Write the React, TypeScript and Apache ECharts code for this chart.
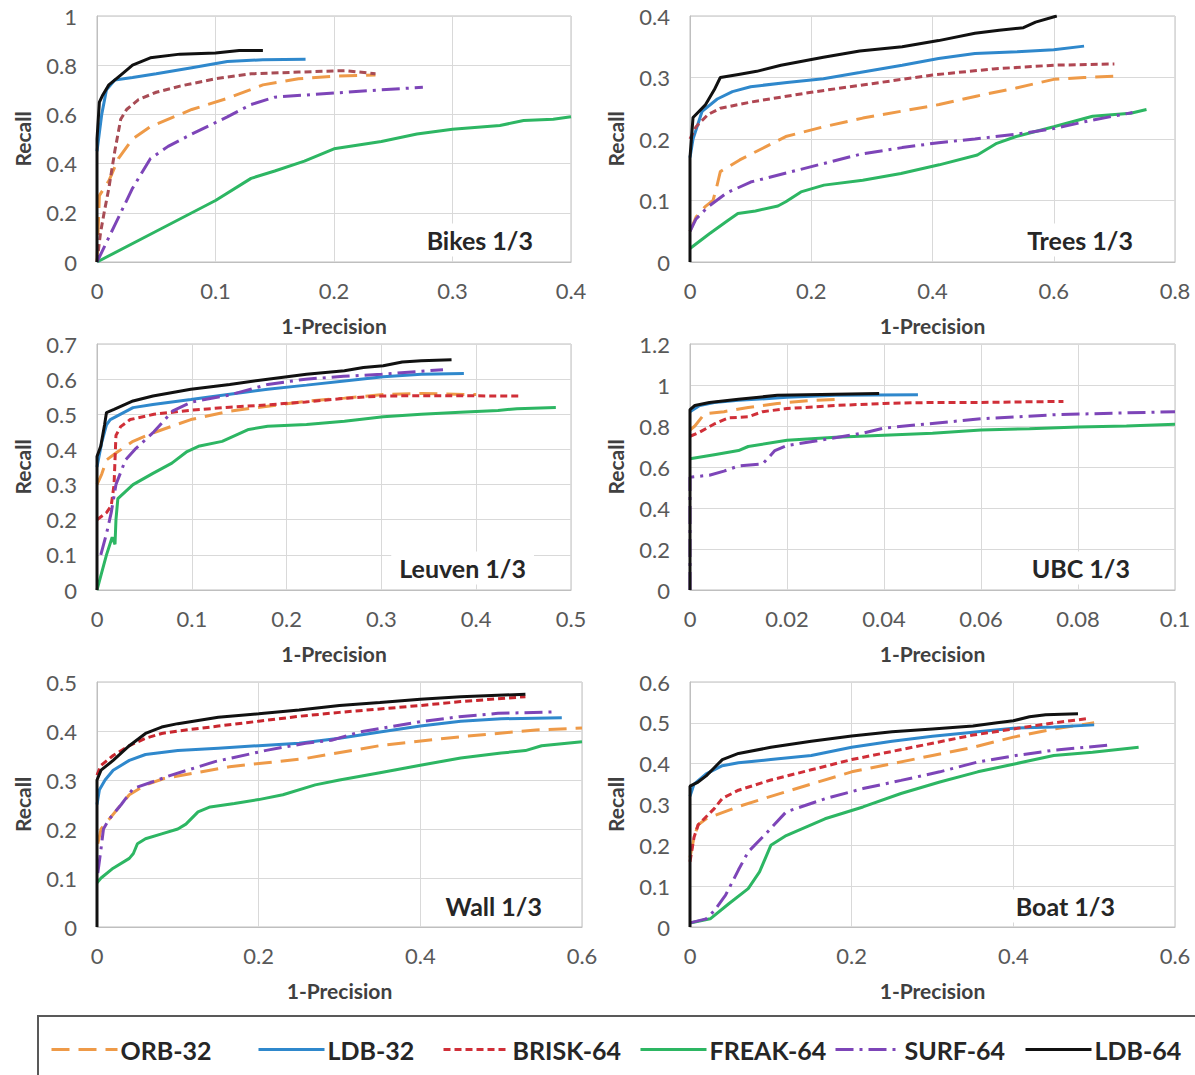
import React, { useEffect, useRef } from "react";
import * as echarts from "echarts";

const seriesNames = ["ORB-32", "LDB-32", "BRISK-64", "FREAK-64", "SURF-64", "LDB-64"];
const seriesColors = ["#EE9A48", "#2F88CC", "#D02F38", "#2DB663", "#7D45B8", "#111111"];
const dashTypes: any[] = [[18, 9], "solid", [7, 4], "solid", [18, 6, 3, 6], "solid"];
const briskPanelColors = ["#A84C55", "#B04652", "#D02F38", "#D02F38", "#C8262E", "#D02F38"];

// ---------- Bikes ----------
const bikesORB = [[0,0],[0.002,0.27],[0.01,0.33],[0.018,0.42],[0.03,0.5],[0.045,0.55],[0.08,0.62],[0.11,0.665],[0.14,0.72],[0.17,0.745],[0.2,0.755],[0.235,0.76]];
const bikesLDB32 = [[0,0.45],[0.004,0.6],[0.008,0.7],[0.015,0.74],[0.03,0.75],[0.05,0.765],[0.08,0.79],[0.11,0.815],[0.14,0.822],[0.176,0.824]];
const bikesBRISK = [[0,0],[0.003,0.12],[0.006,0.2],[0.01,0.3],[0.015,0.45],[0.02,0.58],[0.025,0.62],[0.035,0.66],[0.05,0.69],[0.07,0.715],[0.1,0.745],[0.13,0.765],[0.17,0.772],[0.21,0.778],[0.235,0.765]];
const bikesFREAK = [[0,0],[0.05,0.125],[0.1,0.25],[0.13,0.34],[0.15,0.37],[0.175,0.41],[0.2,0.46],[0.24,0.49],[0.27,0.52],[0.3,0.54],[0.34,0.555],[0.36,0.575],[0.385,0.58],[0.4,0.59]];
const bikesSURF = [[0,0],[0.015,0.15],[0.03,0.3],[0.045,0.42],[0.06,0.47],[0.08,0.52],[0.11,0.59],[0.13,0.64],[0.15,0.67],[0.18,0.68],[0.21,0.69],[0.24,0.7],[0.275,0.71]];
const bikesLDB64 = [[0,0],[0,0.5],[0.002,0.65],[0.005,0.68],[0.01,0.72],[0.02,0.76],[0.03,0.8],[0.045,0.83],[0.07,0.845],[0.1,0.85],[0.12,0.86],[0.14,0.86]];

// ---------- Trees ----------
const treesORB = [[0,0.05],[0.01,0.073],[0.025,0.09],[0.038,0.1],[0.044,0.122],[0.05,0.147],[0.082,0.166],[0.126,0.188],[0.158,0.204],[0.221,0.22],[0.285,0.234],[0.348,0.245],[0.411,0.256],[0.474,0.27],[0.538,0.283],[0.6,0.297],[0.65,0.3],[0.7,0.302]];
const treesLDB32 = [[0,0.17],[0.005,0.2],[0.02,0.245],[0.045,0.265],[0.07,0.277],[0.1,0.285],[0.16,0.292],[0.22,0.298],[0.28,0.308],[0.35,0.32],[0.41,0.331],[0.47,0.339],[0.54,0.342],[0.6,0.345],[0.65,0.351]];
const treesBRISK = [[0,0.2],[0.01,0.22],[0.03,0.24],[0.05,0.25],[0.1,0.26],[0.15,0.268],[0.2,0.276],[0.3,0.29],[0.4,0.304],[0.5,0.314],[0.6,0.32],[0.7,0.322]];
const treesFREAK = [[0,0.022],[0.032,0.046],[0.063,0.068],[0.079,0.079],[0.108,0.083],[0.145,0.091],[0.158,0.098],[0.183,0.114],[0.221,0.125],[0.285,0.133],[0.348,0.144],[0.411,0.158],[0.474,0.174],[0.506,0.193],[0.538,0.204],[0.6,0.22],[0.664,0.237],[0.727,0.242],[0.753,0.248]];
const treesSURF = [[0,0.05],[0.01,0.07],[0.03,0.09],[0.06,0.112],[0.1,0.13],[0.16,0.145],[0.22,0.16],[0.28,0.175],[0.35,0.186],[0.41,0.194],[0.47,0.2],[0.54,0.208],[0.6,0.217],[0.66,0.23],[0.73,0.243]];
const treesLDB64 = [[0,0],[0,0.17],[0.005,0.235],[0.025,0.255],[0.04,0.28],[0.05,0.3],[0.08,0.305],[0.11,0.31],[0.15,0.32],[0.22,0.333],[0.28,0.343],[0.35,0.35],[0.41,0.36],[0.47,0.372],[0.51,0.377],[0.55,0.381],[0.57,0.39],[0.605,0.4]];

// ---------- Leuven ----------
const leuvenORB = [[0,0.3],[0.005,0.33],[0.01,0.37],[0.02,0.39],[0.038,0.423],[0.059,0.447],[0.099,0.485],[0.14,0.509],[0.18,0.523],[0.221,0.537],[0.261,0.546],[0.302,0.556],[0.342,0.559],[0.4,0.556]];
const leuvenLDB32 = [[0,0.35],[0.005,0.42],[0.01,0.47],[0.014,0.485],[0.038,0.519],[0.059,0.528],[0.099,0.542],[0.14,0.557],[0.18,0.571],[0.221,0.583],[0.261,0.595],[0.302,0.607],[0.342,0.614],[0.387,0.616]];
const leuvenBRISK = [[0,0.2],[0.01,0.22],[0.015,0.24],[0.018,0.3],[0.02,0.44],[0.025,0.465],[0.035,0.485],[0.06,0.5],[0.1,0.512],[0.14,0.52],[0.18,0.527],[0.22,0.535],[0.26,0.545],[0.3,0.552],[0.35,0.553],[0.445,0.552]];
const leuvenFREAK = [[0,0],[0.004,0.04],[0.01,0.1],[0.016,0.15],[0.019,0.13],[0.02,0.2],[0.022,0.26],[0.03,0.28],[0.038,0.3],[0.059,0.332],[0.079,0.361],[0.095,0.394],[0.107,0.409],[0.132,0.423],[0.16,0.457],[0.18,0.466],[0.221,0.471],[0.261,0.48],[0.302,0.493],[0.342,0.5],[0.383,0.506],[0.423,0.511],[0.443,0.516],[0.484,0.519]];
const leuvenSURF = [[0.004,0.1],[0.01,0.16],[0.015,0.22],[0.02,0.3],[0.03,0.37],[0.04,0.4],[0.06,0.45],[0.08,0.51],[0.1,0.535],[0.14,0.555],[0.18,0.585],[0.22,0.6],[0.26,0.608],[0.3,0.614],[0.34,0.622],[0.365,0.627]];
const leuvenLDB64 = [[0,0],[0,0.38],[0.004,0.41],[0.008,0.47],[0.01,0.505],[0.018,0.514],[0.038,0.538],[0.059,0.552],[0.099,0.571],[0.14,0.585],[0.18,0.6],[0.221,0.614],[0.261,0.624],[0.281,0.633],[0.302,0.638],[0.322,0.649],[0.342,0.652],[0.374,0.655]];

// ---------- UBC ----------
const ubcORB = [[0,0.78],[0.001,0.8],[0.003,0.86],[0.007,0.87],[0.012,0.89],[0.018,0.91],[0.025,0.925],[0.03,0.93]];
const ubcLDB32 = [[0,0.87],[0.002,0.9],[0.005,0.915],[0.01,0.925],[0.02,0.94],[0.03,0.95],[0.047,0.953]];
const ubcBRISK = [[0,0.75],[0.002,0.77],[0.005,0.81],[0.008,0.84],[0.012,0.845],[0.015,0.87],[0.02,0.885],[0.03,0.9],[0.04,0.91],[0.05,0.915],[0.06,0.915],[0.077,0.92]];
const ubcFREAK = [[0,0.64],[0.005,0.66],[0.01,0.68],[0.012,0.7],[0.02,0.73],[0.03,0.745],[0.04,0.755],[0.05,0.765],[0.06,0.78],[0.07,0.787],[0.08,0.795],[0.09,0.8],[0.1,0.808]];
const ubcSURF = [[0,0],[0,0.55],[0.004,0.56],[0.007,0.58],[0.01,0.605],[0.015,0.615],[0.0175,0.68],[0.02,0.705],[0.028,0.735],[0.036,0.767],[0.04,0.79],[0.051,0.815],[0.06,0.835],[0.075,0.855],[0.1,0.87]];
const ubcLDB64 = [[0,0],[0,0.88],[0.001,0.9],[0.004,0.915],[0.01,0.93],[0.018,0.95],[0.03,0.955],[0.039,0.958]];

// ---------- Wall ----------
const wallORB = [[0.001,0.17],[0.005,0.2],[0.015,0.22],[0.03,0.25],[0.04,0.27],[0.06,0.29],[0.083,0.303],[0.164,0.327],[0.258,0.344],[0.353,0.371],[0.448,0.388],[0.543,0.402],[0.6,0.406]];
const wallLDB32 = [[0,0.25],[0.003,0.28],[0.01,0.3],[0.02,0.32],[0.04,0.34],[0.06,0.352],[0.1,0.36],[0.15,0.365],[0.2,0.37],[0.25,0.375],[0.3,0.385],[0.35,0.398],[0.4,0.41],[0.45,0.42],[0.5,0.425],[0.575,0.427]];
const wallBRISK = [[0,0.31],[0.005,0.33],[0.02,0.35],[0.04,0.37],[0.06,0.385],[0.08,0.395],[0.1,0.4],[0.15,0.41],[0.2,0.42],[0.25,0.43],[0.3,0.438],[0.35,0.445],[0.4,0.452],[0.45,0.46],[0.53,0.47]];
const wallFREAK = [[0,0.09],[0.005,0.1],[0.02,0.12],[0.04,0.14],[0.045,0.15],[0.05,0.17],[0.06,0.18],[0.08,0.19],[0.1,0.2],[0.11,0.21],[0.125,0.235],[0.14,0.245],[0.17,0.252],[0.2,0.26],[0.23,0.27],[0.27,0.29],[0.3,0.3],[0.35,0.315],[0.4,0.33],[0.45,0.345],[0.5,0.355],[0.53,0.36],[0.55,0.37],[0.6,0.378]];
const wallSURF = [[0.001,0.11],[0.005,0.16],[0.008,0.2],[0.015,0.22],[0.03,0.25],[0.045,0.283],[0.07,0.297],[0.092,0.31],[0.147,0.338],[0.211,0.361],[0.258,0.375],[0.29,0.381],[0.325,0.398],[0.4,0.419],[0.448,0.429],[0.496,0.436],[0.567,0.439]];
const wallLDB64 = [[0,0],[0,0.3],[0.005,0.32],[0.02,0.34],[0.04,0.37],[0.06,0.395],[0.08,0.408],[0.1,0.415],[0.15,0.428],[0.2,0.435],[0.25,0.443],[0.3,0.452],[0.35,0.458],[0.4,0.465],[0.45,0.47],[0.53,0.475]];

// ---------- Boat ----------
const boatORB = [[0,0.17],[0.005,0.22],[0.01,0.25],[0.02,0.265],[0.04,0.28],[0.06,0.295],[0.1,0.32],[0.15,0.35],[0.2,0.38],[0.25,0.4],[0.3,0.42],[0.35,0.44],[0.4,0.465],[0.45,0.485],[0.5,0.5]];
const boatLDB32 = [[0,0.32],[0.005,0.35],[0.02,0.375],[0.04,0.395],[0.06,0.402],[0.1,0.41],[0.15,0.42],[0.2,0.44],[0.25,0.455],[0.3,0.467],[0.35,0.477],[0.4,0.487],[0.45,0.49],[0.5,0.495]];
const boatBRISK = [[0,0.16],[0.005,0.22],[0.01,0.25],[0.02,0.27],[0.03,0.29],[0.04,0.315],[0.06,0.335],[0.1,0.36],[0.15,0.385],[0.2,0.41],[0.25,0.43],[0.3,0.45],[0.35,0.47],[0.4,0.485],[0.45,0.5],[0.49,0.51]];
const boatFREAK = [[0,0.01],[0.025,0.02],[0.048,0.057],[0.072,0.094],[0.086,0.135],[0.1,0.2],[0.119,0.224],[0.167,0.265],[0.214,0.294],[0.261,0.327],[0.309,0.355],[0.356,0.38],[0.403,0.4],[0.45,0.42],[0.498,0.428],[0.555,0.44]];
const boatSURF = [[0,0.01],[0.02,0.02],[0.03,0.04],[0.044,0.078],[0.06,0.14],[0.072,0.184],[0.096,0.233],[0.119,0.282],[0.167,0.314],[0.214,0.339],[0.261,0.359],[0.309,0.38],[0.356,0.404],[0.403,0.42],[0.45,0.433],[0.517,0.445]];
const boatLDB64 = [[0,0],[0,0.345],[0.01,0.355],[0.02,0.37],[0.03,0.39],[0.04,0.41],[0.06,0.425],[0.1,0.44],[0.15,0.455],[0.2,0.468],[0.25,0.478],[0.3,0.485],[0.35,0.492],[0.38,0.5],[0.4,0.505],[0.42,0.515],[0.44,0.52],[0.48,0.522]];

const panelTitles = ["Bikes 1/3", "Trees 1/3", "Leuven 1/3", "UBC 1/3", "Wall 1/3", "Boat 1/3"];
const xMaxes = [0.4, 0.8, 0.5, 0.1, 0.6, 0.6];
const xSteps = [0.1, 0.2, 0.1, 0.02, 0.2, 0.2];
const yMaxes = [1, 0.4, 0.7, 1.2, 0.5, 0.6];
const ySteps = [0.2, 0.1, 0.1, 0.2, 0.1, 0.1];
const panelData = [
  [bikesORB, bikesLDB32, bikesBRISK, bikesFREAK, bikesSURF, bikesLDB64],
  [treesORB, treesLDB32, treesBRISK, treesFREAK, treesSURF, treesLDB64],
  [leuvenORB, leuvenLDB32, leuvenBRISK, leuvenFREAK, leuvenSURF, leuvenLDB64],
  [ubcORB, ubcLDB32, ubcBRISK, ubcFREAK, ubcSURF, ubcLDB64],
  [wallORB, wallLDB32, wallBRISK, wallFREAK, wallSURF, wallLDB64],
  [boatORB, boatLDB32, boatBRISK, boatFREAK, boatSURF, boatLDB64],
];

// layout (pixels)
const gridRects = [
  { left: 97, top: 16, width: 474, height: 246 },
  { left: 690, top: 16, width: 485, height: 246 },
  { left: 97, top: 344, width: 474, height: 246 },
  { left: 690, top: 344, width: 485, height: 246 },
  { left: 97, top: 682, width: 485, height: 245 },
  { left: 690, top: 682, width: 485, height: 245 },
];
const titleRightX = [541, 1141, 534, 1138, 550, 1123];
const titleY = [240, 240, 568, 568, 906, 906];
const legendLefts = [50, 257, 442, 639, 834, 1024];

const FONT = "Lato, 'Open Sans', sans-serif";

export default function App() {
  const ref = useRef<HTMLDivElement>(null);
  useEffect(() => {
    if (!ref.current) return;
    const chart = echarts.init(ref.current, undefined, { renderer: "svg" });
    const grid: any[] = [];
    const xAxis: any[] = [];
    const yAxis: any[] = [];
    const series: any[] = [];
    const graphic: any[] = [];
    gridRects.forEach((g, i) => {
      grid.push({ ...g, show: true, borderColor: "#bfbfbf", borderWidth: 1, backgroundColor: "#ffffff" });
      xAxis.push({
        type: "value", gridIndex: i, min: 0, max: xMaxes[i], interval: xSteps[i],
        name: "1-Precision", nameLocation: "middle", nameGap: 53,
        nameTextStyle: { fontFamily: FONT, fontWeight: "bold", fontSize: 21, color: "#404040" },
        axisLine: { show: true, lineStyle: { color: "#bfbfbf", width: 1 } },
        axisTick: { show: false },
        axisLabel: { fontFamily: FONT, fontSize: 22, color: "#595959", margin: 17 },
        splitLine: { show: true, lineStyle: { color: "#d9d9d9", width: 1 } },
      });
      yAxis.push({
        type: "value", gridIndex: i, min: 0, max: yMaxes[i], interval: ySteps[i],
        name: "Recall", nameLocation: "middle", nameGap: 64,
        nameTextStyle: { fontFamily: FONT, fontWeight: "bold", fontSize: 21, color: "#404040" },
        axisLine: { show: true, lineStyle: { color: "#bfbfbf", width: 1 } },
        axisTick: { show: false },
        axisLabel: { fontFamily: FONT, fontSize: 22, color: "#595959", margin: 20 },
        splitLine: { show: true, lineStyle: { color: "#d9d9d9", width: 1 } },
      });
      panelData[i].forEach((d, j) => {
        const color = j === 2 ? briskPanelColors[i] : seriesColors[j];
        series.push({
          type: "line", name: seriesNames[j], xAxisIndex: i, yAxisIndex: i,
          data: d, symbol: "none", showSymbol: false, clip: true,
          lineStyle: { color, width: 3, type: dashTypes[j] },
          itemStyle: { color },
          z: 2 + j,
        });
      });
      graphic.push({
        type: "text", x: titleRightX[i], y: titleY[i], z: 100,
        style: {
          text: panelTitles[i], fill: "#262626", font: `bold 25px ${FONT}`,
          textAlign: "right", textVerticalAlign: "middle",
          backgroundColor: "#ffffff", padding: [4, 8],
        },
      });
    });
    graphic.push({
      type: "rect", shape: { x: 38, y: 1016, width: 1170, height: 80 }, z: 0,
      style: { fill: "#ffffff", stroke: "#595959", lineWidth: 2 },
    });
    const legend = seriesNames.map((n, j) => ({
      data: [n], left: legendLefts[j], top: 1037, orient: "horizontal",
      itemWidth: 66, itemHeight: 14, itemGap: 0, padding: 0,
      selectedMode: false,
      itemStyle: { opacity: 0 },
      lineStyle: { color: seriesColors[j], width: 3, type: dashTypes[j], opacity: 1 },
      textStyle: { fontFamily: FONT, fontWeight: "bold", fontSize: 25, color: "#262626", padding: [0, 0, 0, -2] },
    }));
    chart.setOption({
      animation: false,
      backgroundColor: "#ffffff",
      grid, xAxis, yAxis, series, graphic, legend,
    });
    return () => chart.dispose();
  }, []);
  return (
    <div
      ref={ref}
      style={{ position: "absolute", left: 0, top: 0, width: 1195, height: 1075 }}
    />
  );
}
